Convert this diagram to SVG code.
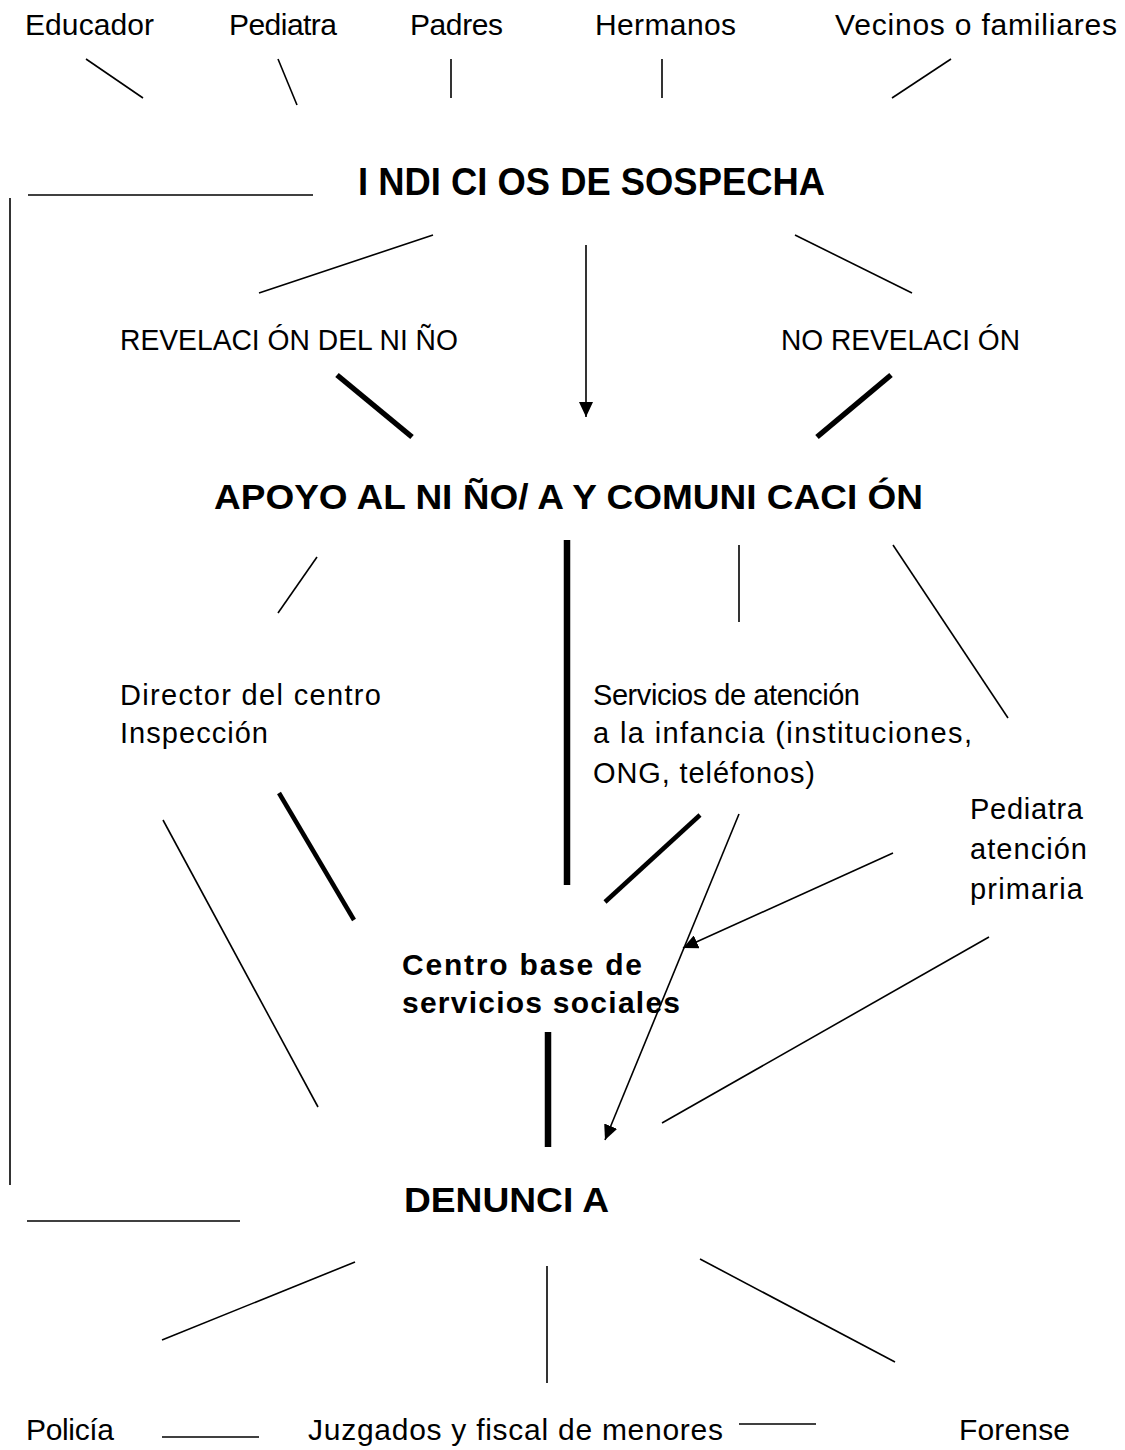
<svg xmlns="http://www.w3.org/2000/svg" width="1125" height="1450" viewBox="0 0 1125 1450">
<style>
text{font-family:"Liberation Sans",Arial,sans-serif;fill:#000}
.n{font-size:30px}
.m{font-size:29px}
.h{font-size:38px;font-weight:bold}
.h2{font-size:35px;font-weight:bold}
.b{font-size:30px;font-weight:bold}
line{stroke:#000;stroke-width:1.6;fill:none}
.t4{stroke-width:4.5}
.t5{stroke-width:5.5}
.t6{stroke-width:6.5}
</style>
<defs>
<marker id="ah" markerUnits="userSpaceOnUse" markerWidth="16" markerHeight="14" refX="15" refY="7" orient="auto">
<path d="M0,0 L15,7 L0,14 z" fill="#000"/>
</marker>
</defs>
<rect width="1125" height="1450" fill="#fff"/>
<g id="connectors">
<line x1="86" y1="59" x2="143" y2="98"/>
<line x1="278" y1="59" x2="297" y2="105"/>
<line x1="451" y1="59" x2="451" y2="98"/>
<line x1="662" y1="59" x2="662" y2="98"/>
<line x1="951" y1="59" x2="892" y2="98"/>
<line x1="28" y1="195" x2="313" y2="195"/>
<line x1="10" y1="198" x2="10" y2="1185"/>
<line x1="433" y1="235" x2="259" y2="293"/>
<line x1="586" y1="245" x2="586" y2="417" marker-end="url(#ah)"/>
<line x1="795" y1="235" x2="912" y2="293"/>
<line class="t5" x1="337" y1="375" x2="412" y2="437"/>
<line class="t5" x1="891" y1="375" x2="817" y2="437"/>
<line x1="317" y1="557" x2="278" y2="613"/>
<line class="t6" x1="567" y1="540" x2="567" y2="885"/>
<line x1="739" y1="545" x2="739" y2="622"/>
<line x1="893" y1="545" x2="1008" y2="718"/>
<line x1="163" y1="820" x2="318" y2="1107"/>
<line class="t4" x1="279" y1="793" x2="354" y2="920"/>
<line class="t4" x1="700" y1="815" x2="605" y2="902"/>
<line x1="739" y1="814" x2="605" y2="1140" marker-end="url(#ah)"/>
<line x1="893" y1="853" x2="683" y2="948" marker-end="url(#ah)"/>
<line x1="989" y1="937" x2="662" y2="1123"/>
<line class="t6" x1="548" y1="1032" x2="548" y2="1147"/>
<line x1="27" y1="1221" x2="240" y2="1221"/>
<line x1="355" y1="1262" x2="162" y2="1340"/>
<line x1="547" y1="1266" x2="547" y2="1383"/>
<line x1="700" y1="1259" x2="895" y2="1362"/>
<line x1="162" y1="1437" x2="259" y2="1437"/>
<line x1="739" y1="1424" x2="816" y2="1424"/>
</g>
<g id="educador"><text class="n" x="25" y="35" textLength="129">Educador</text></g>
<g id="pediatra"><text class="n" x="229" y="35" textLength="108">Pediatra</text></g>
<g id="padres"><text class="n" x="410" y="35" textLength="93">Padres</text></g>
<g id="hermanos"><text class="n" x="595" y="35" textLength="141">Hermanos</text></g>
<g id="vecinos"><text class="n" x="835" y="35" textLength="282">Vecinos o familiares</text></g>
<g id="indicios"><text class="h" x="358" y="195" textLength="467" lengthAdjust="spacingAndGlyphs">I NDI CI OS DE SOSPECHA</text></g>
<g id="revelacion"><text class="m" x="120" y="350" textLength="338" lengthAdjust="spacingAndGlyphs">REVELACI ÓN DEL NI ÑO</text></g>
<g id="norevelacion"><text class="m" x="781" y="350" textLength="239" lengthAdjust="spacingAndGlyphs">NO REVELACI ÓN</text></g>
<g id="apoyo"><text class="h2" x="214" y="509" textLength="709" lengthAdjust="spacingAndGlyphs">APOYO AL NI ÑO/ A Y COMUNI CACI ÓN</text></g>
<g id="director">
<text class="m" x="120" y="705" textLength="261">Director del centro</text>
<text class="m" x="120" y="743" textLength="148">Inspección</text>
</g>
<g id="servicios">
<text class="m" x="593" y="705" textLength="267">Servicios de atención</text>
<text class="m" x="593" y="743" textLength="379">a la infancia (instituciones,</text>
<text class="m" x="593" y="783" textLength="222">ONG, teléfonos)</text>
</g>
<g id="pediatra-ap">
<text class="m" x="970" y="819" textLength="113">Pediatra</text>
<text class="m" x="970" y="859" textLength="117">atención</text>
<text class="m" x="970" y="899" textLength="113">primaria</text>
</g>
<g id="centro">
<text class="b" x="402" y="975" textLength="240">Centro base de</text>
<text class="b" x="402" y="1013" textLength="278">servicios sociales</text>
</g>
<g id="denuncia"><text class="h2" x="404" y="1212" textLength="205" lengthAdjust="spacingAndGlyphs">DENUNCI A</text></g>
<g id="policia"><text class="n" x="26" y="1440" textLength="88">Policía</text></g>
<g id="juzgados"><text class="n" x="308" y="1440" textLength="415">Juzgados y fiscal de menores</text></g>
<g id="forense"><text class="n" x="959" y="1440" textLength="111">Forense</text></g>
</svg>
